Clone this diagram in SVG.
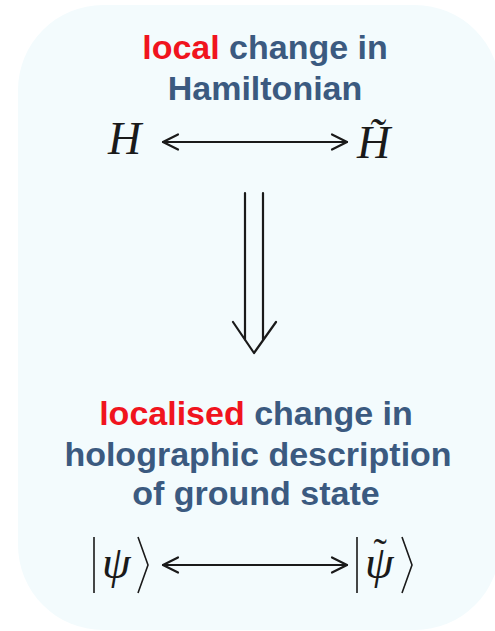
<svg xmlns="http://www.w3.org/2000/svg" width="495" height="631" viewBox="0 0 495 631">
<style>
.lbl{font-family:"Liberation Sans",Arial,sans-serif;font-weight:bold;font-size:34px;fill:#3b5a80;text-anchor:middle}
.red{fill:#f0141e}
.math{font-family:"Liberation Serif","Times New Roman",serif;font-style:italic;font-size:46px;fill:#1a1a1a}
.ln{stroke:#1a1a1a;stroke-width:2.2;fill:none;stroke-linecap:round;stroke-linejoin:round}
.dl{stroke:#1a1a1a;stroke-width:1.6;fill:none;stroke-linecap:butt;stroke-linejoin:miter}
</style>
<defs>
<marker id="chev" viewBox="0 0 20 20" refX="17" refY="10" markerWidth="20" markerHeight="20" markerUnits="userSpaceOnUse" orient="auto-start-reverse">
<path d="M2,2.5 L17,10 L2,17.5" fill="none" stroke="#1a1a1a" stroke-width="2.2" stroke-linecap="round" stroke-linejoin="round"/>
</marker>
</defs>
<rect id="panel" x="18" y="5" width="482" height="625" rx="85" ry="85" fill="#f3fbfd"/>
<g id="top-label">
<text class="lbl" x="265" y="59"><tspan class="red">local</tspan> change in</text>
<text class="lbl" x="265" y="100">Hamiltonian</text>
</g>
<g id="node-H"><text class="math" x="108" y="154">H</text></g>
<g id="node-Htilde"><text class="math" x="357" y="158">H̃</text></g>
<g id="bottom-label">
<text class="lbl" x="256" y="425"><tspan class="red">localised</tspan> change in</text>
<text class="lbl" x="258" y="466">holographic description</text>
<text class="lbl" x="256" y="505">of ground state</text>
</g>
<g id="node-psi">
<path class="dl" d="M94,537 V593 M138,537 L148,565 L138,593"/>
<text class="math" x="102" y="578">ψ</text>
</g>
<g id="node-psitilde">
<path class="dl" d="M357,537 V593 M402,537 L412,565 L402,593"/>
<text class="math" x="365" y="578">ψ<tspan dx="-20" dy="-12" font-style="normal" font-size="40">˜</tspan></text>
</g>
<g id="connectors">
<line class="ln" x1="163" y1="142" x2="347" y2="142" marker-start="url(#chev)" marker-end="url(#chev)"/>
<line class="ln" x1="163" y1="565" x2="347" y2="565" marker-start="url(#chev)" marker-end="url(#chev)"/>
<path class="ln" d="M245,193 V340 M263,193 V340 M233,322 L254,353 L276,322"/>
</g>
</svg>
